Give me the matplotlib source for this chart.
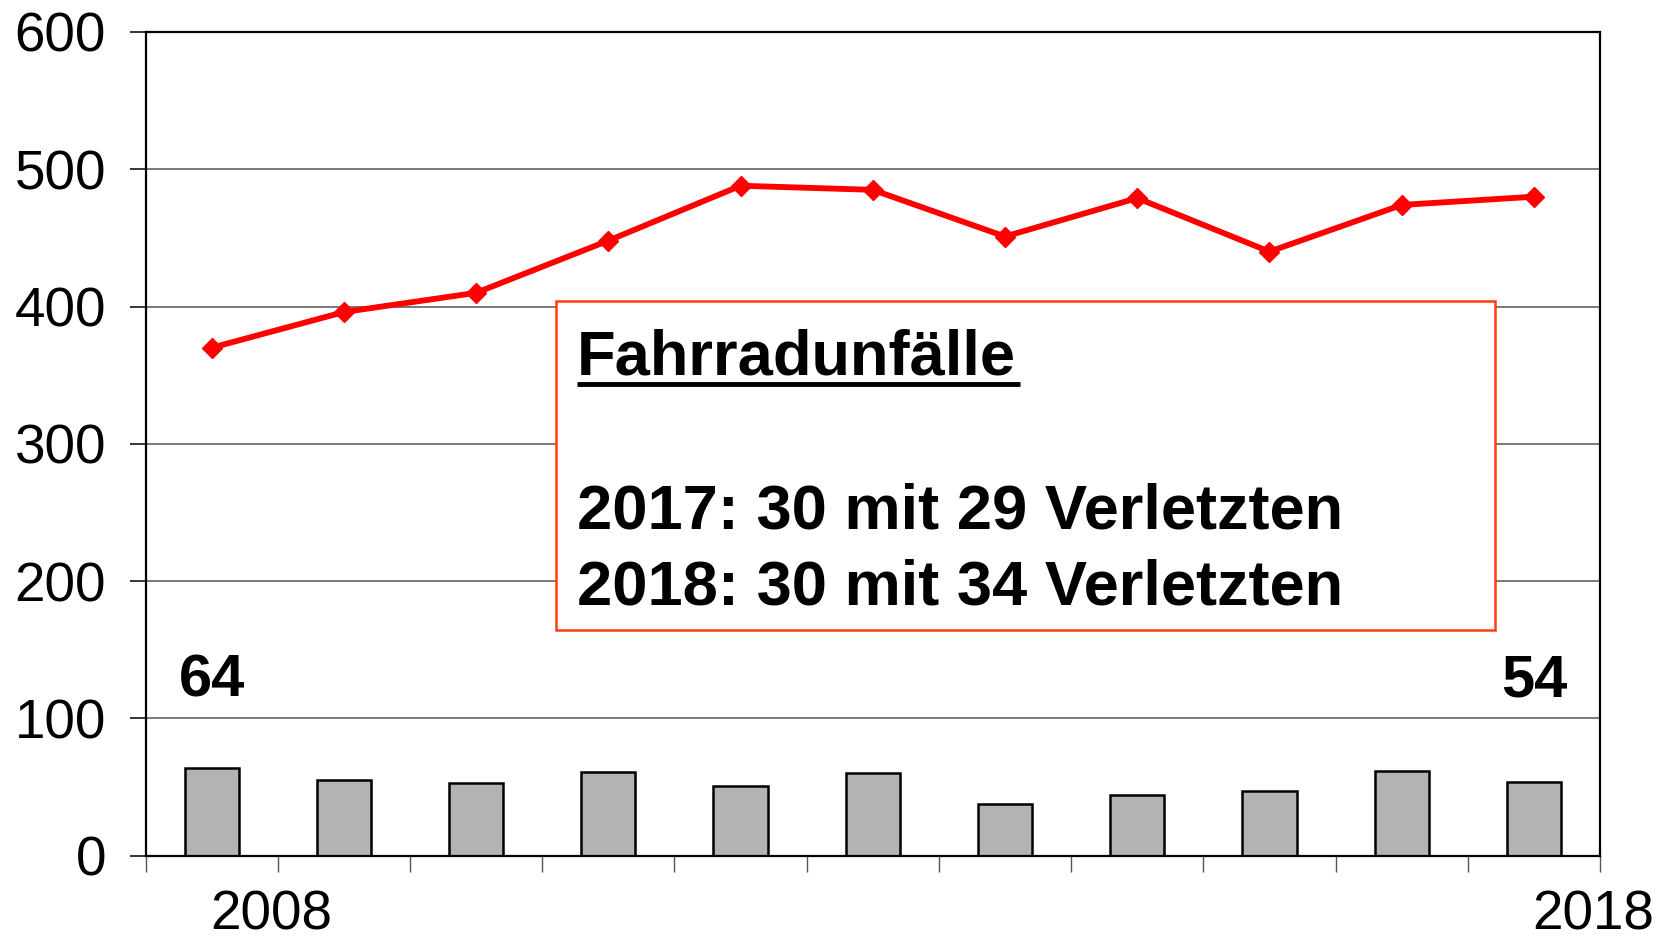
import numpy as np
import matplotlib.pyplot as plt
import matplotlib.transforms as mtransforms

plt.rcParams["font.family"] = ["Liberation Sans", "DejaVu Sans"]

# data
years = ["2008", "2009", "2010", "2011", "2012", "2013", "2014", "2015", "2016", "2017", "2018"]
accidents = [370, 396, 410, 448, 488, 485, 451, 479, 440, 474, 480]
bicycle = [64, 55, 53, 61, 51, 60, 38, 44, 47, 62, 54]
yticks = [0, 100, 200, 300, 400, 500, 600]
box_title = "Fahrradunfälle"
box_lines = ["2017: 30 mit 29 Verletzten", "2018: 30 mit 34 Verletzten"]

x = np.arange(len(years))

fig = plt.figure(figsize=(16.67, 9.42), dpi=100)
ax = fig.add_axes([0.0873, 0.0915, 0.8725, 0.8746])

for y in yticks[1:-1]:
    ax.axhline(y, color="#555555", lw=1.1, zorder=0)

ax.bar(x, bicycle, width=0.41, color="#b3b3b3", edgecolor="black", linewidth=1.8, zorder=2)
ax.plot(x, accidents, color="#ff0000", lw=4.2, marker="D", markersize=10.5, zorder=3)

# bold value labels for first and last bar
ax.text(x[0], 116, str(bicycle[0]), fontsize=43, fontweight="bold", ha="center", va="baseline")
ax.text(x[-1], 116, str(bicycle[-1]), fontsize=43, fontweight="bold", ha="center", va="baseline")

ax.set_xlim(-0.5, len(years) - 0.5)
ax.set_ylim(0, 600)
ax.set_yticks(yticks)
ax.set_yticklabels([str(v) for v in yticks])
ax.tick_params(axis="y", direction="out", length=11.5, width=1.1, labelsize=39.5, pad=17)

bounds = np.arange(-0.5, len(years), 1.0)
labels = [""] * len(bounds)
labels[1] = years[0]
labels[-1] = years[-1]
ax.set_xticks(bounds)
ax.set_xticklabels(labels)
ax.tick_params(axis="x", direction="out", length=11.5, width=1.0, color="#555555",
               labelsize=39.5, pad=13)
shift = mtransforms.ScaledTranslation(-5 / 72, 0, fig.dpi_scale_trans)
for lab in ax.get_xticklabels():
    lab.set_transform(lab.get_transform() + shift)

for s in ax.spines.values():
    s.set_linewidth(1.6)
    s.set_color("black")

# annotation box
rect = plt.Rectangle((0.2822, 0.2741), 0.6456, 0.3993, transform=ax.transAxes,
                     facecolor="white", edgecolor="#ff3c14", linewidth=1.8, zorder=4)
ax.add_patch(rect)
ax.text(0.2968, 0.5848, box_title, transform=ax.transAxes, fontsize=45.5,
        fontweight="bold", va="baseline", ha="left", zorder=5)
ax.plot([0.2968, 0.6012], [0.5727, 0.5727], transform=ax.transAxes, color="black",
        lw=3.5, solid_capstyle="butt", zorder=5)
ax.text(0.2968, 0.3978, box_lines[0], transform=ax.transAxes, fontsize=45.5,
        fontweight="bold", va="baseline", ha="left", zorder=5)
ax.text(0.2968, 0.3056, box_lines[1], transform=ax.transAxes, fontsize=45.5,
        fontweight="bold", va="baseline", ha="left", zorder=5)

fig.savefig("out.png", dpi=100)
